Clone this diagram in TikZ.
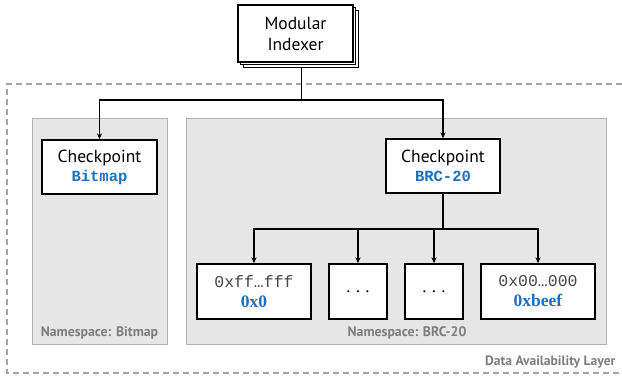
\documentclass[tikz,border=0pt]{standalone}
\usepackage{fontspec}
\setmainfont{PT Sans}
\newfontfamily\codefont{Liberation Mono}
\newfontfamily\hexfont{Liberation Serif}
\usetikzlibrary{arrows.meta,shadows}

\definecolor{panelfill}{RGB}{230,230,230}
\definecolor{paneledge}{RGB}{178,178,178}
\definecolor{labelgray}{RGB}{125,125,125}
\definecolor{keyblue}{RGB}{28,112,190}
\definecolor{hexgray}{RGB}{70,70,70}

\newcommand{\keytext}[1]{{\codefont\fontsize{15.5}{17}\selectfont\bfseries\color{keyblue}#1}}
\newcommand{\hexrange}[1]{{\codefont\fontsize{16.5}{18}\selectfont\color{hexgray}#1}}
\newcommand{\hexval}[1]{{\hexfont\fontsize{17.5}{19}\selectfont\bfseries\color{keyblue}#1}}
\newcommand{\elide}{\raisebox{-3pt}{.\,\,.\,\,.}}

\tikzset{
  box/.style={draw=black, line width=1.3pt, fill=white, inner sep=0pt, align=center},
  panel/.style={draw=paneledge, line width=0.9pt, fill=panelfill},
  link/.style={draw=black, line width=1.2pt},
  arrowlink/.style={link, -{Stealth[length=6pt,width=5pt]}},
  graylabel/.style={text=labelgray, font=\fontsize{13.8}{15}\selectfont\bfseries},
}

\begin{document}
\begin{tikzpicture}[x=1pt,y=-1pt, font=\fontsize{17.5}{21}\selectfont]
\useasboundingbox (0,0) rectangle (622,377);

% data availability layer (open on the right)
\draw[labelgray!70, line width=1.1pt, dash pattern=on 6pt off 4pt]
  (622,84) -- (7,84) -- (7,373) -- (622,373);
\node[graylabel, anchor=east, font=\fontsize{13.6}{15}\selectfont\bfseries] (dal) at (619,362) {Data Availability Layer};

% namespace panels
\draw[panel] (32,118) rectangle (167,344);
\draw[panel] (186,118) rectangle (606,344);
\node[graylabel] (nsbitmap) at (99.5,333) {Namespace: Bitmap};
\node[graylabel] (nsbrc) at (407,333) {Namespace: BRC-20};

% modular indexer (stacked instances)
\node[box, minimum width=115pt, minimum height=57pt,
      double copy shadow={shadow xshift=2.8pt, shadow yshift=-2.8pt}]
  (idx) at (295.5,33.5) {Modular\\[0pt]Indexer};
\coordinate (idxout) at ([xshift=5.6pt,yshift=-5.6pt]idx.south);

% checkpoints
\node[box, minimum width=115pt, minimum height=54pt] (cpbitmap) at (99.5,167)
  {Checkpoint\\[-2pt]\keytext{Bitmap}};
\node[box, minimum width=114pt, minimum height=54pt] (cpbrc) at (443,166)
  {Checkpoint\\[-2pt]\keytext{BRC-20}};

% BRC-20 entries
\node[box, minimum width=114pt, minimum height=55pt] (e1) at (254,291.5)
  {\hexrange{0xff…fff}\\[-1pt]\hexval{0x0}};
\node[box, minimum width=58pt, minimum height=55pt] (e2) at (358,291.5) {\elide};
\node[box, minimum width=58pt, minimum height=55pt] (e3) at (434,291.5) {\elide};
\node[box, minimum width=114pt, minimum height=55pt] (e4) at (538,291.5)
  {\hexrange{0x00…000}\\[-1pt]\hexval{0xbeef}};

% connectors
\coordinate (split) at (idxout |- 0,100);
\draw[link] (idxout) -- (split);
\draw[arrowlink] (split) -| (cpbitmap.north);
\draw[arrowlink] (split) -| (cpbrc.north);

\coordinate (fan) at (cpbrc.south |- 0,229);
\draw[link] (cpbrc.south) -- (fan);
\draw[arrowlink] (fan) -| (e1.north);
\draw[arrowlink] (fan) -| (e2.north);
\draw[arrowlink] (fan) -| (e3.north);
\draw[arrowlink] (fan) -| (e4.north);
\end{tikzpicture}
\end{document}
